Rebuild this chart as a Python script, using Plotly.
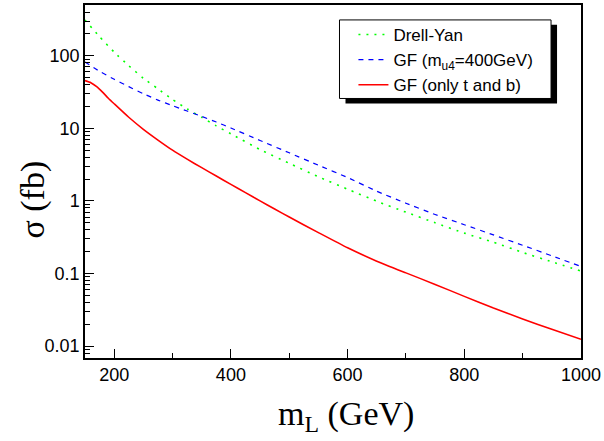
import plotly.graph_objects as go

# ---- data ----
mass_dy = [150, 175, 200, 225, 250, 275, 300, 325, 350, 375, 400, 450, 500,
           550, 600, 650, 700, 750, 800, 850, 900, 950, 1000]
xs_dy = [310, 183, 112, 73, 49, 35, 25, 18.5, 14.2, 10.8, 8.4, 5.1, 3.3,
         2.15, 1.45, 0.99, 0.70, 0.50, 0.36, 0.27, 0.195, 0.145, 0.108]

mass_gf = [150, 175, 200, 225, 250, 275, 300, 325, 350, 375, 400, 450, 500,
           550, 600, 650, 700, 750, 800, 850, 900, 950, 1000]
xs_gf = [82, 61, 47.5, 37.5, 30, 24.5, 20.5, 17.3, 14.6, 12.2, 10.1, 6.8, 4.6,
         3.1, 2.1, 1.36, 0.93, 0.65, 0.47, 0.34, 0.245, 0.175, 0.125]

mass_tb = [150, 160, 170, 180, 190, 200, 225, 250, 275, 300, 325, 350, 375, 400,
           425, 450, 475, 500, 550, 600, 650, 700, 750, 800, 850, 900, 950, 1000]
xs_tb = [45.5, 42.5, 37.5, 31.5, 26, 21.8, 14.2, 9.7, 6.9, 5.0, 3.76, 2.87, 2.2, 1.69,
         1.30, 1.0, 0.773, 0.60, 0.366, 0.226, 0.148, 0.102, 0.0708, 0.0484, 0.0334,
         0.0237, 0.017, 0.0124]

names = ["Drell-Yan", "GF (m<sub>u4</sub>=400GeV)", "GF (only t and b)"]
x_tickvals = [200, 400, 600, 800, 1000]
x_minor_vals = [300, 500, 700, 900]
y_tickvals = [0.01, 0.1, 1, 10, 100]
y_ticktext = ["0.01", "0.1", "1", "10", "100"]
y_minor_vals = [m * 10 ** e for e in range(-3, 3) for m in range(2, 10)]
x_title = "m<sub>L</sub> (GeV)"
y_title = "σ (fb)"

serif = "Liberation Serif, Times New Roman, serif"
sans = "Liberation Sans, Arial, sans-serif"

fig = go.Figure()
fig.add_trace(go.Scatter(x=mass_dy, y=xs_dy, mode="lines", name=names[0],
                         line=dict(color="#00ff00", width=1.6, dash="2px,6px", shape="spline", smoothing=0.5)))
fig.add_trace(go.Scatter(x=mass_gf, y=xs_gf, mode="lines", name=names[1],
                         line=dict(color="#0000ff", width=1.2, dash="5px,5px", shape="spline", smoothing=0.5)))
fig.add_trace(go.Scatter(x=mass_tb, y=xs_tb, mode="lines", name=names[2],
                         line=dict(color="#ff0000", width=1.6, shape="spline", smoothing=0.5)))

fig.update_layout(
    width=604, height=441,
    margin=dict(l=85, r=22, t=3, b=83),
    paper_bgcolor="white", plot_bgcolor="white",
    font=dict(family=sans, size=18, color="black"),
    legend=dict(x=0.5412, y=0.966, xanchor="left", yanchor="top",
                bgcolor="rgba(0,0,0,0)", borderwidth=0,
                font=dict(size=17), tracegroupgap=0),
    shapes=[
        # legend shadow
        dict(type="rect", xref="paper", yref="paper",
             x0=0.5252, x1=0.9517, y0=0.7211, y1=0.9437,
             fillcolor="black", line=dict(width=0), layer="above"),
        # legend box
        dict(type="rect", xref="paper", yref="paper",
             x0=0.5131, x1=0.9396, y0=0.7352, y1=0.9577,
             fillcolor="white", line=dict(width=1, color="black"), layer="above"),
    ],
    annotations=[
        dict(text=x_title, xref="paper", yref="paper", x=0.527, y=-0.163,
             xanchor="center", yanchor="middle", showarrow=False,
             font=dict(family=serif, size=34)),
        dict(text=y_title, xref="paper", yref="paper", x=-0.104, y=0.45,
             xanchor="center", yanchor="middle", showarrow=False, textangle=-90,
             font=dict(family=serif, size=34)),
    ],
)
fig.update_xaxes(
    range=[150, 1000], tickmode="array", tickvals=x_tickvals, ticks="inside", ticklen=9, tickwidth=1.2,
    tickcolor="black",
    showline=True, linewidth=1.5, linecolor="black", mirror=True, showgrid=False, zeroline=False,
    minor=dict(ticks="inside", ticklen=5, tickwidth=1.2, tickcolor="black", tickmode="array",
               tickvals=x_minor_vals, showgrid=False),
)
fig.update_yaxes(
    type="log", range=[-2.164, 2.699], tickmode="array", tickvals=y_tickvals, ticktext=y_ticktext,
    ticks="inside", ticklen=9, tickwidth=1.2, tickcolor="black",
    showline=True, linewidth=1.5, linecolor="black", mirror=True, showgrid=False, zeroline=False,
    minor=dict(ticks="inside", ticklen=5, tickwidth=1, tickcolor="black", tickmode="array",
               tickvals=y_minor_vals, showgrid=False),
)
fig.write_html("out.html")
